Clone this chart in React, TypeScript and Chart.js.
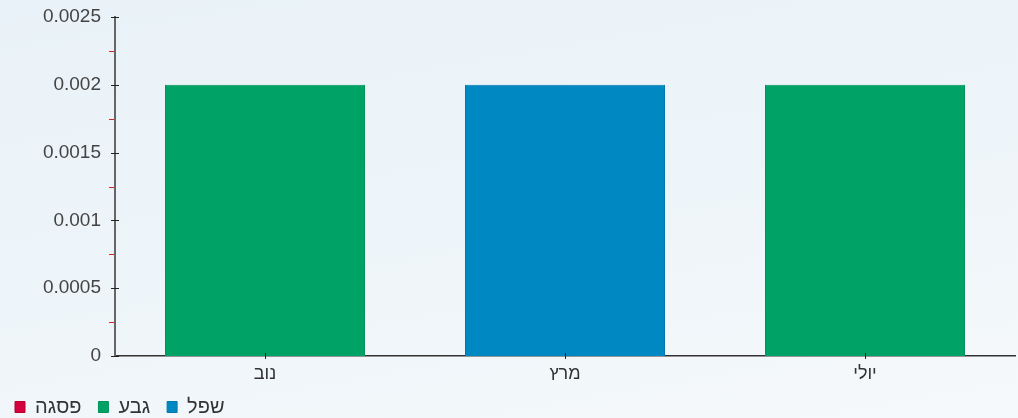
import React, { useEffect, useRef } from "react";
import { Chart, registerables } from "chart.js";

Chart.register(...registerables);

const categories = ["נוב", "מרץ", "יולי"];
const seriesNames = ["פסגה", "גבע", "שפל"];
const peakValues: (number | null)[] = [null, null, null];
const midValues: (number | null)[] = [0.002, null, 0.002];
const lowValues: (number | null)[] = [null, 0.002, null];
const yTicks = [0, 0.0005, 0.001, 0.0015, 0.002, 0.0025];
const seriesColors = ["#d2033d", "#00a265", "#0088c2"];
const seriesBorders = ["#b8002f", "#00945a", "#0079b0"];

const FONT = "'Liberation Sans', Arial, sans-serif";

const axisTicks = {
  id: "axisTicks",
  afterDraw(chart: any) {
    const { ctx, chartArea } = chart;
    const x = chart.scales.x;
    const y = chart.scales.y;
    ctx.save();
    ctx.lineWidth = 1;
    ctx.strokeStyle = "#e81c1c";
    for (let i = 0; i < yTicks.length - 1; i++) {
      const v = (yTicks[i] + yTicks[i + 1]) / 2;
      const py = Math.round(y.getPixelForValue(v)) + 0.5;
      ctx.beginPath();
      ctx.moveTo(chartArea.left - 6, py);
      ctx.lineTo(chartArea.left - 1, py);
      ctx.stroke();
    }
    ctx.strokeStyle = "#222";
    yTicks.forEach((v) => {
      const py = Math.round(y.getPixelForValue(v)) + 0.5;
      ctx.beginPath();
      ctx.moveTo(chartArea.left - 4, py);
      ctx.lineTo(chartArea.left + 4, py);
      ctx.stroke();
    });
    categories.forEach((_, i) => {
      const px = Math.round(x.getPixelForValue(i)) + 0.5;
      ctx.beginPath();
      ctx.moveTo(px, chartArea.bottom - 3);
      ctx.lineTo(px, chartArea.bottom + 3);
      ctx.stroke();
    });
    ctx.restore();
  },
};

export default function App() {
  const ref = useRef<HTMLCanvasElement | null>(null);

  useEffect(() => {
    document.body.style.margin = "0";
    document.body.style.overflow = "hidden";
    Chart.defaults.font.family = FONT;
    const chart = new Chart(ref.current as HTMLCanvasElement, {
      type: "bar",
      data: {
        labels: categories,
        datasets: [peakValues, midValues, lowValues].map((vals, i) => ({
          label: seriesNames[i],
          data: vals,
          backgroundColor: seriesColors[i],
          borderColor: seriesBorders[i],
          borderWidth: 1,
          barPercentage: 1,
          categoryPercentage: 2 / 3,
          skipNull: true,
        })),
      },
      options: {
        animation: false,
        responsive: false,
        layout: { padding: { top: 17, right: 3, left: -2, bottom: -9 } },
        plugins: {
          legend: {
            position: "bottom",
            align: "start",
            labels: {
              boxWidth: 10,
              boxHeight: 11,
              padding: 17,
              color: "#333",
              font: { size: 20, family: FONT },
            },
          },
          tooltip: { enabled: false },
        },
        scales: {
          x: {
            stacked: true,
            grid: { display: false, drawTicks: false },
            border: { display: true, color: "#333", width: 1.5 },
            ticks: { color: "#333", padding: 7, font: { size: 18, family: FONT } },
            afterFit: (s: any) => {
              s.height = 24;
              s.paddingLeft = 0;
              s.paddingRight = 0;
            },
          },
          y: {
            stacked: true,
            min: 0,
            max: 0.0025,
            grid: { display: false, drawTicks: false },
            border: { display: true, color: "#666", width: 2 },
            afterBuildTicks: (s: any) => {
              s.ticks = yTicks.map((v) => ({ value: v }));
            },
            ticks: {
              color: "#444",
              padding: 14,
              font: { size: 19, family: FONT },
              callback: (v: any) => String(v),
            },
            afterFit: (s: any) => {
              s.width = 117;
              s.paddingTop = 0;
              s.paddingBottom = 0;
            },
          },
        },
      },
      plugins: [axisTicks],
    } as any);
    return () => chart.destroy();
  }, []);

  return (
    <div
      style={{
        position: "fixed",
        left: 0,
        top: 0,
        width: 1018,
        height: 418,
        background: "linear-gradient(170deg, #e9f2f8 0%, #eef5f9 55%, #f6f9fb 100%)",
      }}
    >
      <canvas ref={ref} width={1018} height={418} style={{ display: "block" }} />
    </div>
  );
}
